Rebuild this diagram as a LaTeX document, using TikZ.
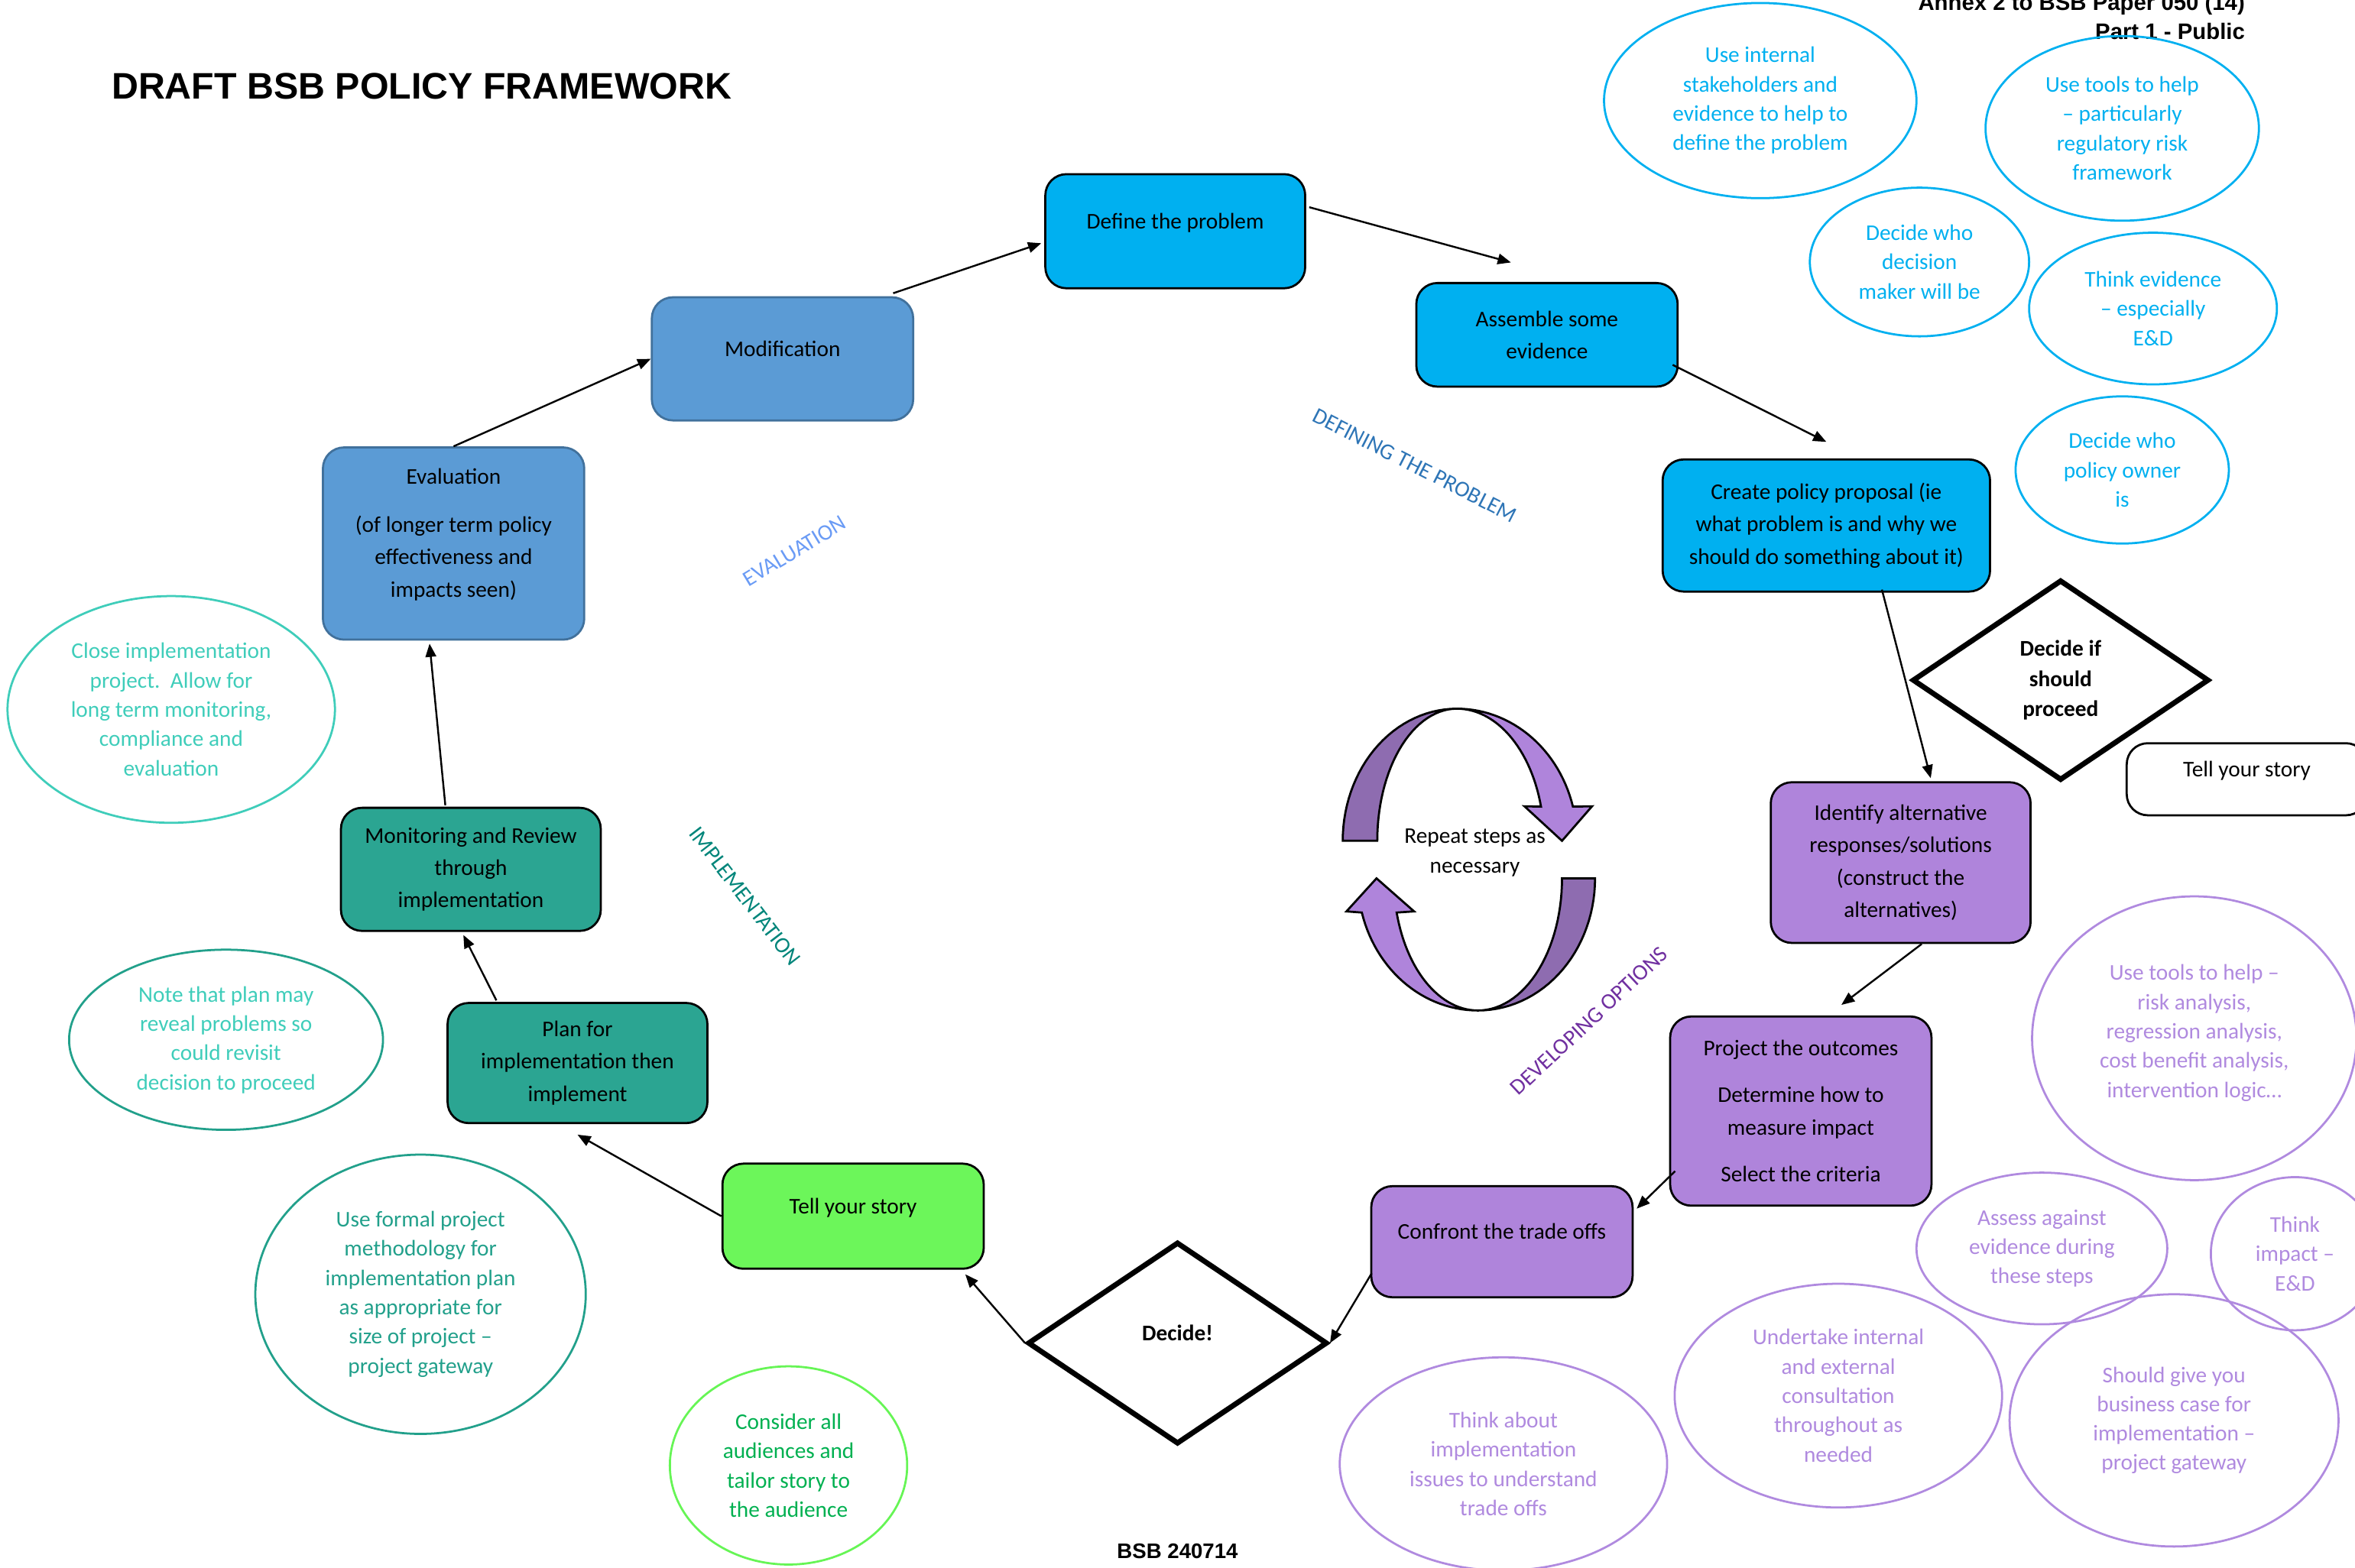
\documentclass[tikz,border=0pt]{standalone}
\usepackage{fontspec}
\setmainfont{Carlito}
\newfontfamily\headfont{Liberation Sans}
\usetikzlibrary{arrows.meta,positioning,calc,shapes.geometric}

\definecolor{probblue}{HTML}{00B0F0}
\definecolor{evalblue}{HTML}{5B9BD5}
\definecolor{evaledge}{HTML}{41719C}
\definecolor{implteal}{HTML}{2BA592}
\definecolor{storygreen}{HTML}{6CF65A}
\definecolor{optpurple}{HTML}{AF84DB}
\definecolor{optdark}{HTML}{8E6CB0}
\definecolor{notepurple}{HTML}{B08ADF}
\definecolor{noteturq}{HTML}{3FCDBA}
\definecolor{noteteal}{HTML}{22A08B}
\definecolor{notegreen}{HTML}{00B050}
\definecolor{notelime}{HTML}{66F555}
\definecolor{tagblue}{HTML}{2E75B6}
\definecolor{taglight}{HTML}{6A9BF5}
\definecolor{tagteal}{HTML}{00857A}
\definecolor{tagpurple}{HTML}{7030A0}

\begin{document}
\begin{tikzpicture}[
  x=0.2mm, y=-0.2mm,
  font=\fontsize{8.5}{12.3}\selectfont,
  >={Triangle[length=5pt,width=4pt]},
  box/.style={rounded corners=8pt,draw,align=center,line width=0.8pt,minimum width=34.8mm,inner sep=2pt},
  oneline/.style={text height=6pt,text depth=7.8pt},
  diam/.style={diamond,draw,line width=2pt,align=center,inner sep=0pt,font=\fontsize{8.5}{11.4}\selectfont\bfseries},
  note/.style={ellipse,draw,line width=0.8pt,align=center,inner sep=0pt,font=\fontsize{8.5}{11.1}\selectfont},
  tag/.style={font=\fontsize{8.5}{10}\selectfont},
  head/.style={inner sep=0pt,font=\headfont\bfseries\fontsize{8.5}{10}\selectfont},
  arr/.style={->,line width=0.7pt}
]
\useasboundingbox (0,0) rectangle (1568,1044);
\clip (0,0) rectangle (1568,1044);

% headings
\node[head,anchor=base west,font=\headfont\bfseries\fontsize{14}{17}\selectfont] (title) at (74,66) {DRAFT BSB POLICY FRAMEWORK};
\node[head,anchor=base east] (annex) at (1495,7) {Annex 2 to BSB Paper 050 (14)};
\node[head,anchor=base east] (part) at (1495,26) {Part 1 - Public};
\node[head,anchor=base,font=\headfont\bfseries\fontsize{8}{10}\selectfont] (footer) at (784,1038) {BSB 240714};

% defining the problem
\node[box,oneline,fill=probblue,minimum width=34.6mm,minimum height=15.2mm] (define) at (782.5,154) {Define the problem};
\node[box,fill=probblue,minimum height=13.8mm] (assemble) at (1030,223) {Assemble some\\evidence};
\node[box,fill=probblue,minimum width=43.6mm,minimum height=17.6mm] (create) at (1216,350) {Create policy proposal (ie\\what problem is and why we\\should do something about it)};
\node[diam,minimum width=39.5mm,minimum height=26.7mm] (proceed) at (1372,453) {Decide if\\should\\proceed};
\node[box,oneline,fill=white,minimum width=32mm,minimum height=9.6mm] (tellfirst) at (1496,519) {Tell your story};

% developing options
\node[box,fill=optpurple,minimum width=34.6mm,minimum height=21.4mm] (identify) at (1265.5,574.5) {Identify alternative\\responses/solutions\\(construct the\\alternatives)};
\node[box,fill=optpurple,minimum height=25.2mm] (project) at (1199,740) {Project the outcomes\\[5.5pt]Determine how to\\measure impact\\[5.5pt]Select the criteria};
\node[box,oneline,fill=optpurple,minimum height=14.8mm] (confront) at (1000,827) {Confront the trade offs};
\node[diam,text height=6pt,text depth=7.8pt,minimum width=39.9mm,minimum height=26.9mm] (decide) at (784,894.5) {Decide!};

% implementation
\node[box,oneline,fill=storygreen,minimum height=14mm] (tell) at (568,810) {Tell your story};
\node[box,fill=implteal,minimum width=34.6mm,minimum height=16mm] (plan) at (384.5,708) {Plan for\\implementation then\\implement};
\node[box,fill=implteal,minimum width=34.6mm,minimum height=16.4mm] (monitor) at (313.5,579) {Monitoring and Review\\through\\implementation};

% evaluation
\node[box,draw=evaledge,fill=evalblue,minimum height=25.6mm,text depth=8.2pt] (eval) at (302,362) {Evaluation\\[6pt](of longer term policy\\effectiveness and\\impacts seen)};
\node[box,oneline,draw=evaledge,fill=evalblue,minimum height=16.4mm] (modif) at (521,239) {Modification};

% stage names
\node[tag,text=tagblue,rotate=-27] (tagdefine) at (942,310) {DEFINING THE PROBLEM};
\node[tag,text=taglight,rotate=31] (tageval) at (529,367) {EVALUATION};
\node[tag,text=tagteal,rotate=-52.5] (tagimpl) at (496,597) {IMPLEMENTATION};
\node[tag,text=tagpurple,rotate=43] (tagopt) at (1058,680) {DEVELOPING OPTIONS};

% notes
\node[note,draw=probblue,text=probblue,minimum width=41.6mm,minimum height=26mm] (intstake) at (1172,67) {Use internal\\stakeholders and\\evidence to help to\\define the problem};
\node[note,draw=probblue,text=probblue,minimum width=36.4mm,minimum height=24.6mm] (riskframe) at (1413,85.5) {Use tools to help\\– particularly\\regulatory risk\\framework};
\node[note,draw=probblue,text=probblue,minimum width=29.2mm,minimum height=19.8mm] (whodecides) at (1278,174.5) {Decide who\\decision\\maker will be};
\node[note,draw=probblue,text=probblue,minimum width=33mm,minimum height=20.2mm] (thinkev) at (1433.5,205.5) {Think evidence\\– especially\\E\&D};
\node[note,draw=probblue,text=probblue,minimum width=28.4mm,minimum height=19.6mm] (whoowns) at (1413,313) {Decide who\\policy owner\\is};
\node[note,draw=notepurple,text=notepurple,minimum width=43.2mm,minimum height=37.8mm,text depth=5.5pt] (optools) at (1461,691.5) {Use tools to help –\\risk analysis,\\regression analysis,\\cost benefit analysis,\\intervention logic…};
\node[note,draw=notepurple,text=notepurple,minimum width=33.4mm,minimum height=20.2mm] (assess) at (1359.5,831.5) {Assess against\\evidence during\\these steps};
\node[note,draw=notepurple,text=notepurple,minimum width=22.4mm,minimum height=20.4mm] (impact) at (1528,835) {Think\\impact –\\E\&D};
\node[note,draw=notepurple,text=notepurple,minimum width=43.6mm,minimum height=29.8mm] (consult) at (1224,929.5) {Undertake internal\\and external\\consultation\\throughout as\\needed};
\node[note,draw=notepurple,text=notepurple,minimum width=43.8mm,minimum height=33.6mm] (business) at (1447.5,946) {Should give you\\business case for\\implementation –\\project gateway};
\node[note,draw=notepurple,text=notepurple,minimum width=43.6mm,minimum height=28.4mm] (tradeissues) at (1001,975) {Think about\\implementation\\issues to understand\\trade offs};
\node[note,draw=notelime,text=notegreen,minimum width=31.6mm,minimum height=26.4mm] (audience) at (525,976) {Consider all\\audiences and\\tailor story to\\the audience};
\node[note,draw=noteteal,text=noteteal,minimum width=44mm,minimum height=37.2mm] (formal) at (280,862) {Use formal project\\methodology for\\implementation plan\\as appropriate for\\size of project –\\project gateway};
\node[note,draw=noteteal,text=noteturq,minimum width=41.8mm,minimum height=24mm] (revisit) at (150.5,692.5) {Note that plan may\\reveal problems so\\could revisit\\decision to proceed};
\node[note,draw=noteturq,text=noteturq,minimum width=43.6mm,minimum height=30.2mm] (closeproj) at (114,472.5) {Close implementation\\project.\ \ Allow for\\long term monitoring,\\compliance and\\evaluation};

% repeat loop
\filldraw[fill=optdark,line width=0.8pt]
  plot[domain=180:270,samples=30] ({970+76*cos(\x)},{560+88*sin(\x)})
  -- plot[domain=270:180,samples=30] ({970+53*cos(\x)},{560+88*sin(\x)}) -- cycle;
\filldraw[fill=optpurple,line width=0.8pt]
  plot[domain=270:345,samples=30] ({970+80*cos(\x)},{560+88*sin(\x)})
  -- (1060,537) -- (1040,560) -- (1015,537)
  -- plot[domain=345:270,samples=30] ({970+58*cos(\x)},{560+88*sin(\x)}) -- cycle;
\filldraw[fill=optdark,line width=0.8pt]
  plot[domain=0:90,samples=30] ({984+78*cos(\x)},{585+88*sin(\x)})
  -- plot[domain=90:0,samples=30] ({984+56*cos(\x)},{585+88*sin(\x)}) -- cycle;
\filldraw[fill=optpurple,line width=0.8pt]
  plot[domain=90:165,samples=30] ({984+80*cos(\x)},{585+88*sin(\x)})
  -- (896.5,607) -- (916.5,585) -- (941.5,607)
  -- plot[domain=165:90,samples=30] ({984+56*cos(\x)},{585+88*sin(\x)}) -- cycle;
\node[align=center,font=\fontsize{8.5}{11.4}\selectfont] (repeat) at (982,568) {Repeat steps as\\necessary};

% the cycle
\draw[arr] (eval.north) -- (modif.west);
\draw[arr] ($(modif.north east)+(-14,-2)$) -- ($(define.west)+(-2,8)$);
\draw[arr] ($(define.east)+(2,-16)$) -- ($(assemble.north)+(-24,-13)$);
\draw[arr] ($(assemble.east)+(-4,20)$) -- ($(create.north)+(0,-11)$);
\draw[arr] ($(create.south)+(37,-2)$) -- ($(identify.north)+(20,-2)$);
\draw[arr] ($(identify.south)+(14,0)$) -- ($(project.north)+(27,-7)$);
\draw[arr] ($(project.west)+(4,40)$) -- ($(confront.east)+(2,-22)$);
\draw[arr] ($(confront.west)+(1,21)$) -- (decide.east);
\draw[arr] (decide.west) -- ($(tell.south east)+(-13,3)$);
\draw[arr] (tell.west) -- ($(plan.south)+(0,7)$);
\draw[arr] ($(plan.north)+(-54,-1)$) -- ($(monitor.south)+(-5,2)$);
\draw[arr] ($(monitor.north)+(-17,-1)$) -- ($(eval.south)+(-16,2)$);
\end{tikzpicture}
\end{document}
